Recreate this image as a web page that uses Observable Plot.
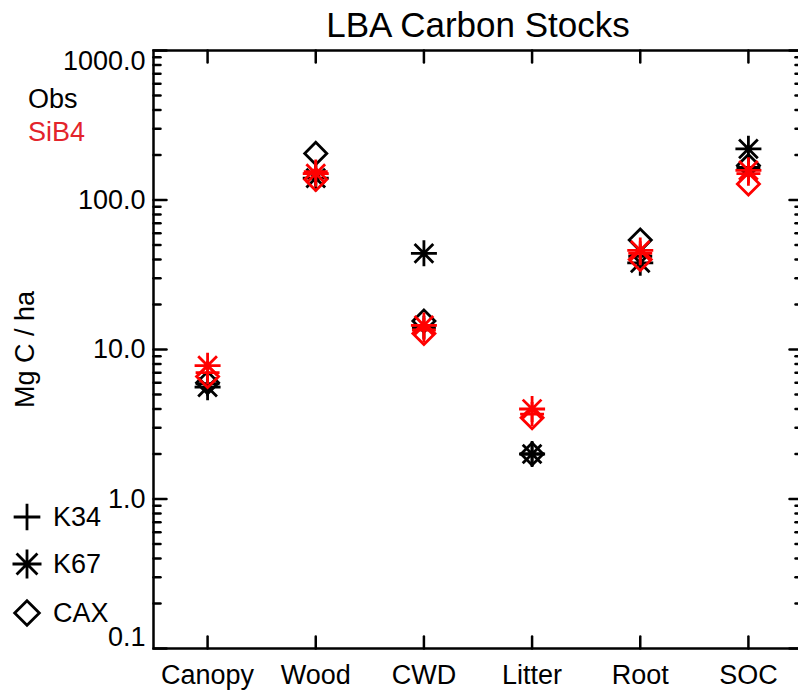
<!DOCTYPE html>
<html><head><meta charset="utf-8">
<script src="https://cdn.jsdelivr.net/npm/d3@7"></script>
<script src="https://cdn.jsdelivr.net/npm/@observablehq/plot@0.6"></script>
<style>
html,body{margin:0;padding:0;background:#fff;overflow:hidden;}
#wrap{position:relative;width:798px;height:692px;overflow:hidden;font-family:"Liberation Sans",Arial,Helvetica,sans-serif;}
#wrap svg{position:absolute;left:0;top:0;}
</style></head><body><div id="wrap"></div>
<script>
// ---- data ----
const categories = ["Canopy", "Wood", "CWD", "Litter", "Root", "SOC"];
const sites = ["K34", "K67", "CAX"];
const groups = ["Obs", "SiB4"];
const obsK34 = [5.9, 150, 14, 2.0, 42, 165];
const obsK67 = [5.6, 140, 44, 2.0, 38, 220];
const obsCAX = [6.0, 205, 15.5, 2.0, 54, 170];
const sibK34 = [7.0, 155, 13.5, 3.7, 44, 150];
const sibK67 = [7.8, 150, 14.5, 4.0, 46, 158];
const sibCAX = [6.6, 137, 12.8, 3.5, 40, 128];
const yTickValues = [0.1, 1, 10, 100, 1000];
const yTitle = "Mg C / ha";
const chartTitle = "LBA Carbon Stocks";

// ---- symbols (IDL-like) ----
const symPlus = {draw(c, s) { const r = Math.sqrt(s / Math.PI) * 0.92; c.moveTo(-r, 0); c.lineTo(r, 0); c.moveTo(0, -r); c.lineTo(0, r); }};
const symAst = {draw(c, s) { const r = Math.sqrt(s / Math.PI); const d = r * 0.72; c.moveTo(-r, 0); c.lineTo(r, 0); c.moveTo(0, -r); c.lineTo(0, r); c.moveTo(-d, -d); c.lineTo(d, d); c.moveTo(-d, d); c.lineTo(d, -d); }};
const symDia = {draw(c, s) { const r = Math.sqrt(s / Math.PI) * 0.85; c.moveTo(0, -r); c.lineTo(r, 0); c.lineTo(0, r); c.lineTo(-r, 0); c.closePath(); }};
const symbolsBySite = {K34: symPlus, K67: symAst, CAX: symDia};

const rows = [];
[[groups[0], [obsK34, obsK67, obsCAX]], [groups[1], [sibK34, sibK67, sibCAX]]].forEach(([g, arrs]) => {
  arrs.forEach((arr, si) => arr.forEach((v, ci) => rows.push({group: g, site: sites[si], cat: ci, value: v})));
});

// ---- tick helpers ----
const tickShape = {draw(c, l) { c.moveTo(0, 0); c.lineTo(0, -l); }};
const minorY = [];
for (const d of [0.1, 1, 10, 100]) for (let k = 2; k <= 9; k++) minorY.push(+(d * k).toPrecision(3));
const catIdx = d3.range(categories.length);
const fmt = d3.format(".1f");
const FS = 27;
const tickStyle = {stroke: "black", strokeWidth: 2.5, anchor: "start", shape: tickShape};

const plot = Plot.plot({
  width: 798, height: 692,
  marginLeft: 153, marginRight: -4, marginTop: 50, marginBottom: 44,
  style: {fontFamily: "Liberation Sans, Arial, Helvetica, sans-serif", fontSize: FS + "px", color: "black", background: "white"},
  x: {type: "linear", domain: [-0.5, 5.5], axis: null},
  y: {type: "log", domain: [0.1, 1000], axis: null},
  symbol: {domain: sites, range: sites.map(s => symbolsBySite[s])},
  color: {domain: groups, range: ["black", "#ff0000"]},
  marks: [
    // data
    Plot.dot(rows.filter(d => d.group === "Obs"), {x: "cat", y: "value", symbol: "site", stroke: "group", fill: "none", r: 13, strokeWidth: 2.8}),
    Plot.dot(rows.filter(d => d.group === "SiB4"), {x: "cat", y: "value", symbol: "site", stroke: "group", fill: "none", r: 13, strokeWidth: 2.8}),
    // frame
    Plot.frame({stroke: "black", strokeWidth: 2.5}),
    // y ticks (inward) left and right
    Plot.vector(yTickValues, {y: d => d, frameAnchor: "left", length: 13, rotate: 90, ...tickStyle}),
    Plot.vector(minorY, {y: d => d, frameAnchor: "left", length: 7, rotate: 90, ...tickStyle}),
    Plot.vector(yTickValues, {y: d => d, frameAnchor: "right", length: 13, rotate: -90, ...tickStyle}),
    Plot.vector(minorY, {y: d => d, frameAnchor: "right", length: 7, rotate: -90, ...tickStyle}),
    // x ticks (inward) bottom and top
    Plot.vector(catIdx, {x: d => d, frameAnchor: "bottom", length: 12, rotate: 0, ...tickStyle}),
    Plot.vector(catIdx, {x: d => d, frameAnchor: "top", length: 12, rotate: 180, ...tickStyle}),
    // y tick labels
    Plot.text(yTickValues.slice(1, 4), {y: d => d, text: d => fmt(d), frameAnchor: "left", textAnchor: "end", lineAnchor: "middle", dx: -8, fontSize: FS}),
    Plot.text([yTickValues[4]], {y: d => d, text: d => fmt(d), frameAnchor: "left", textAnchor: "end", lineAnchor: "middle", dx: -8, dy: 11, fontSize: FS}),
    Plot.text([yTickValues[0]], {y: d => d, text: d => fmt(d), frameAnchor: "left", textAnchor: "end", lineAnchor: "middle", dx: -8, dy: -11, fontSize: FS}),
    // x tick labels
    Plot.text(catIdx, {x: d => d, text: d => categories[d], frameAnchor: "bottom", lineAnchor: "top", textAnchor: "middle", dy: 16, fontSize: FS}),
    // y title
    Plot.text([yTitle], {frameAnchor: "left", rotate: -90, textAnchor: "middle", lineAnchor: "middle", dx: -128, fontSize: FS}),
    // chart title
    Plot.text([chartTitle], {frameAnchor: "top", textAnchor: "middle", lineAnchor: "middle", dy: -25, fontSize: 35})
  ]
});
document.getElementById("wrap").appendChild(plot);

// ---- legends ----
const leg = d3.select("#wrap").append("svg")
  .attr("width", 150).attr("height", 692)
  .style("font-family", "Liberation Sans, Arial, Helvetica, sans-serif");
const groupColors = {Obs: "black", SiB4: "#e3242b"};
groups.forEach((g, i) => {
  leg.append("text").attr("x", 28).attr("y", 99 + i * 33).attr("dy", "0.35em")
    .attr("font-size", FS).attr("fill", groupColors[g]).text(g);
});
sites.forEach((s, i) => {
  const cy = [517, 564, 613][i];
  leg.append("path").attr("transform", `translate(27,${cy})`)
    .attr("d", d3.symbol(symbolsBySite[s], Math.PI * 14.5 * 14.5)())
    .attr("fill", "none").attr("stroke", "black").attr("stroke-width", 2.8);
  leg.append("text").attr("x", 53).attr("y", cy).attr("dy", "0.35em")
    .attr("font-size", FS).attr("fill", "black").text(s);
});
</script>
</body></html>
